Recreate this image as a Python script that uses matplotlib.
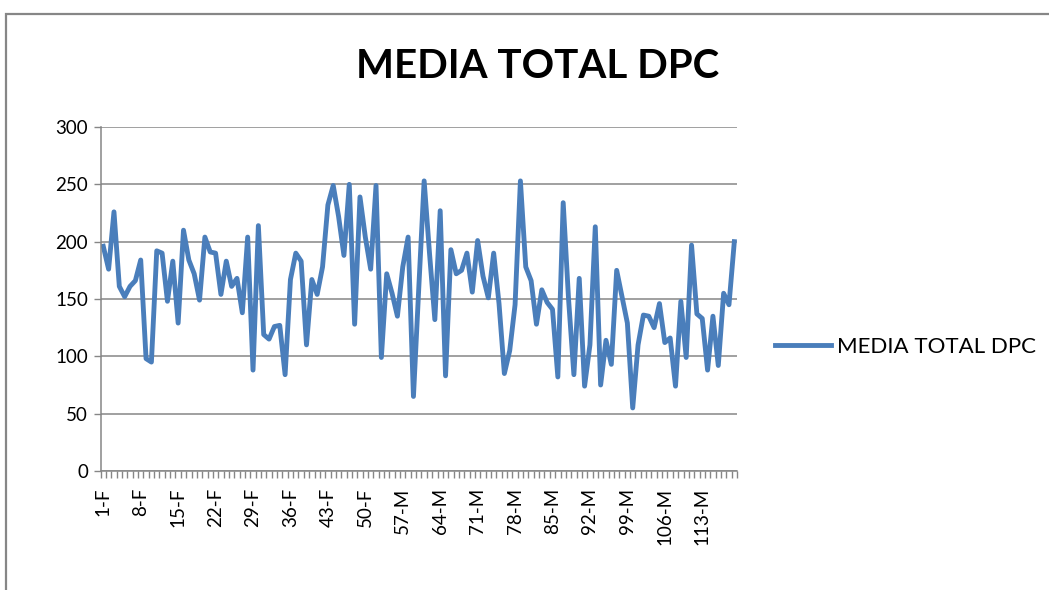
import numpy as np
import matplotlib
matplotlib.use('Agg')
import matplotlib.pyplot as plt
from matplotlib.patches import Rectangle
from matplotlib.ticker import FixedLocator

# Daily values (119 points)
media_total_dpc = [
    196, 176, 226, 161, 152, 161, 166, 184, 98, 95,
    192, 190, 148, 183, 129, 210, 184, 172, 149, 204,
    191, 190, 154, 183, 161, 168, 138, 204, 88, 214,
    119, 115, 126, 127, 84, 167, 190, 183, 110, 167,
    154, 178, 232, 249, 222, 188, 250, 128, 239, 204,
    176, 249, 99, 172, 155, 135, 178, 204, 65, 160,
    253, 190, 132, 227, 83, 193, 172, 175, 190, 156,
    201, 170, 151, 190, 146, 85, 105, 145, 253, 178,
    166, 128, 158, 147, 141, 82, 234, 150, 84, 168,
    74, 110, 213, 75, 114, 93, 175, 152, 129, 55,
    110, 136, 135, 125, 146, 112, 116, 74, 148, 99,
    197, 137, 133, 88, 135, 92, 155, 145, 200,
]

# Category labels that are shown on the axis (every 7th day)
tick_labels = ['1-F', '8-F', '15-F', '22-F', '29-F', '36-F', '43-F', '50-F', '57-M',
               '64-M', '71-M', '78-M', '85-M', '92-M', '99-M', '106-M', '113-M']
tick_step = 7

series_name = 'MEDIA TOTAL DPC'
title = 'MEDIA TOTAL DPC'

line_color = '#4a7ebb'
grid_color = '#868686'

plt.rcParams['font.family'] = ['Lato', 'DejaVu Sans']

W, H = 1049, 590
fig = plt.figure(figsize=(W / 100, H / 100), dpi=100)

# Chart frame (only top and left edges are visible)
frame = Rectangle((6 / W, -0.5), 2.0, 1.5 - 14 / H, transform=fig.transFigure,
                  fill=False, edgecolor=grid_color, linewidth=1.6)
fig.patches.append(frame)

# Plot area
ax = fig.add_axes([100.6 / W, 1 - 471 / H, (737 - 100.6) / W, (471 - 127) / H])

n = len(media_total_dpc)
x = np.arange(n)
ax.plot(x, media_total_dpc, color=line_color, linewidth=3.5,
        solid_joinstyle='round', label=series_name)

ax.set_xlim(-0.5, n - 0.5)
ax.set_ylim(0, 300)
ax.set_yticks(np.arange(0, 301, 50))
ax.yaxis.grid(True, color=grid_color, linewidth=1.1)
ax.set_axisbelow(True)

# x axis: marks at every category boundary, labels every 7th category
ax.xaxis.set_major_locator(FixedLocator(np.arange(0, n, tick_step)[:len(tick_labels)]))
ax.set_xticklabels(tick_labels, rotation=90)
ax.xaxis.set_minor_locator(FixedLocator(np.arange(-0.5, n, 1)))
ax.tick_params(axis='x', which='major', length=0, pad=12, labelsize=13.5)
ax.tick_params(axis='x', which='minor', length=5, width=1, color=grid_color, direction='out')
ax.tick_params(axis='y', length=5, width=1, color=grid_color, pad=4, labelsize=13.5)

for side in ['top', 'right']:
    ax.spines[side].set_visible(False)
for side in ['left', 'bottom']:
    ax.spines[side].set_color(grid_color)
    ax.spines[side].set_linewidth(1.1)

# Title
fig.text(538 / W, 1 - 66 / H, title, ha='center', va='center',
         fontsize=29, fontweight='bold', color='black')

# Legend
fig.legend(loc='center left', bbox_to_anchor=(775 / W, 1 - 347 / H),
           frameon=False, fontsize=16, handlelength=2.5, handletextpad=0.3,
           borderpad=0, borderaxespad=0)

fig.savefig('out.png', dpi=100)
